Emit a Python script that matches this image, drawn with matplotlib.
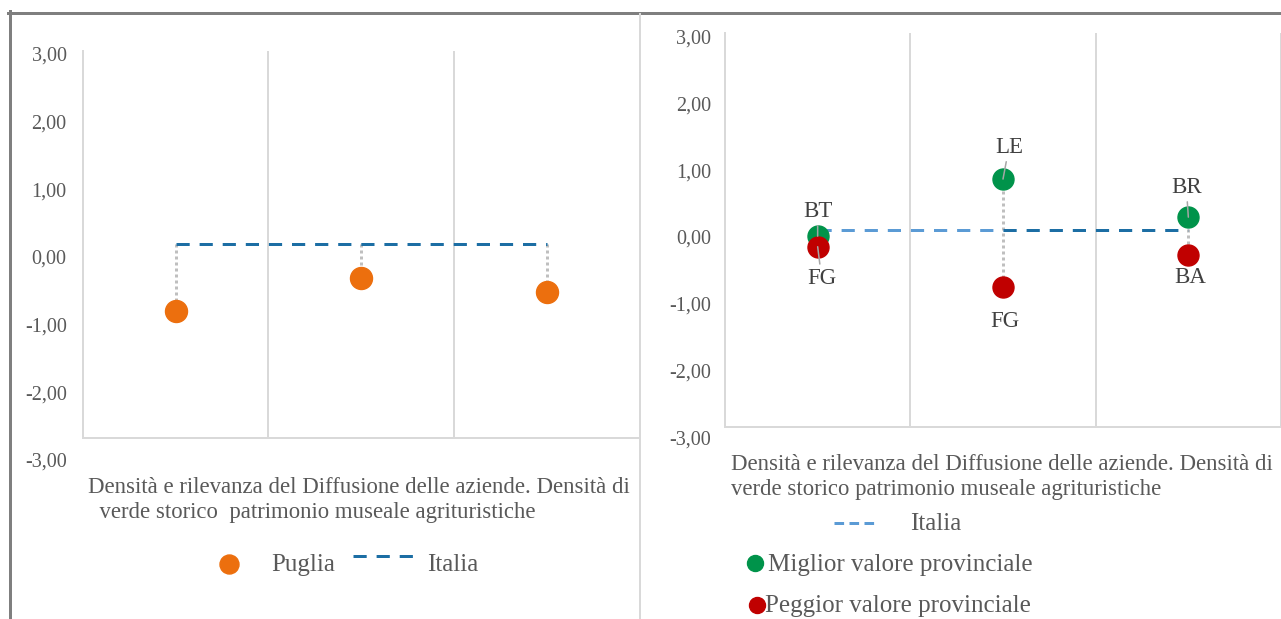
import matplotlib
matplotlib.use("Agg")
import matplotlib.pyplot as plt
from matplotlib.lines import Line2D
import numpy as np

# ---------------- data ----------------
category_text_left = ("Densità e rilevanza del Diffusione delle aziende. Densità di\n"
                      "  verde storico  patrimonio museale agrituristiche")
category_text_right = ("Densità e rilevanza del Diffusione delle aziende. Densità di\n"
                       "verde storico patrimonio museale agrituristiche")
puglia = [-1.04, -0.52, -0.74]
italia_left = [0.0, 0.0, 0.0]
italia_right = [0.0, 0.0, 0.0]
best = [-0.09, 0.78, 0.20]
worst = [-0.25, -0.87, -0.37]
best_labels = ["BT", "LE", "BR"]
worst_labels = ["FG", "FG", "BA"]
yticks = [-3, -2, -1, 0, 1, 2, 3]
legend_left = ["Puglia", "Italia"]
legend_right = ["Italia", "Miglior valore provinciale", "Peggior valore provinciale"]

# ---------------- style ----------------
W, H = 1281, 619
plt.rcParams["font.family"] = ["Liberation Serif", "DejaVu Serif"]
TXT = "#595959"
GRID = "#d9d9d9"
DOT = "#bfbfbf"
ORANGE = "#EC6F0E"
GREEN = "#00934A"
RED = "#C00000"
BLUE_D = "#1C6EA4"
BLUE_L = "#5B9BD5"
PX = 72 / 100  # points per pixel
CAT_FS = 16.4
LEG_FS = 18
TICK_FS = 14.5
LAB_FS = 16.5

fig = plt.figure(figsize=(W / 100, H / 100), dpi=100)


def rect(x0, y0, x1, y1):
    return [x0 / W, 1 - y1 / H, (x1 - x0) / W, (y1 - y0) / H]


def fx(x):
    return x / W


def fy(y):
    return 1 - y / H


def make_axes(r):
    ax = fig.add_axes(r)
    n = 3
    ax.set_xlim(0, n)
    ax.set_ylim(-3, 3)
    ax.set_xticks(np.arange(n + 1))
    ax.set_xticklabels([])
    ax.set_yticks([])
    ax.tick_params(axis="x", length=0)
    ax.grid(axis="x", color=GRID, lw=2 * PX)
    for s in ["top", "right"]:
        ax.spines[s].set_visible(False)
    for s in ["left", "bottom"]:
        ax.spines[s].set_color(GRID)
        ax.spines[s].set_linewidth(2 * PX)
    ax.set_facecolor("none")
    return ax


def label_axes(x, ytop, ybot, pad_px):
    la = fig.add_axes(rect(x, ytop, x + 1, ybot))
    la.set_ylim(-3, 3)
    la.set_yticks(yticks)
    la.set_yticklabels([f"{v:.2f}".replace(".", ",") for v in yticks])
    la.set_xticks([])
    la.tick_params(axis="y", length=0, pad=pad_px * PX, labelsize=TICK_FS, labelcolor=TXT)
    la.set_frame_on(False)
    la.patch.set_visible(False)
    return la


xs = np.arange(3) + 0.5
dash = (0, (4.4, 3.3))
dotted = (0, (1, 1))

# ---------------- left panel ----------------
axL = make_axes(rect(82.7, 50.7, 640, 438))
label_axes(82.7, 54, 460, 16)
for x, v, it in zip(xs, puglia, italia_left):
    axL.plot([x, x], [it, v], color=DOT, lw=3 * PX, ls=dotted, zorder=2,
             dash_capstyle="butt")
axL.plot(xs, italia_left, color=BLUE_D, lw=3 * PX, ls=dash, zorder=3,
         dash_capstyle="butt")
axL.plot(xs, puglia, ls="none", marker="o", ms=22 * PX, color=ORANGE, zorder=4)
fig.text(fx(88), fy(500), category_text_left, ha="left", va="center",
         fontsize=CAT_FS, color=TXT, linespacing=1.3)

# left legend (manual)
fig.add_artist(Line2D([fx(229)], [fy(564)], marker="o", ms=19 * PX, color=ORANGE,
                      ls="none", transform=fig.transFigure))
fig.text(fx(271), fy(565), legend_left[0], ha="left", va="center", fontsize=LEG_FS, color=TXT)
fig.add_artist(Line2D([fx(353), fx(413)], [fy(556), fy(556)], color=BLUE_D,
                      lw=3 * PX, ls=dash, dash_capstyle="butt",
                      transform=fig.transFigure))
fig.text(fx(427), fy(565), legend_left[1], ha="left", va="center", fontsize=LEG_FS, color=TXT)

# ---------------- right panel ----------------
axR = make_axes(rect(725, 33.3, 1281, 427.3))
label_axes(725, 36.7, 437.3, 14)
for x, b, w in zip(xs, best, worst):
    axR.plot([x, x], [b, w], color=DOT, lw=3 * PX, ls=dotted, zorder=2,
             dash_capstyle="butt")
axR.plot(xs[:2], italia_right[:2], color=BLUE_L, lw=3 * PX, ls=dash, zorder=3,
         dash_capstyle="butt")
axR.plot(xs[1:], italia_right[1:], color=BLUE_D, lw=3 * PX, ls=dash, zorder=3,
         dash_capstyle="butt")
axR.plot(xs, best, ls="none", marker="o", ms=21 * PX, color=GREEN, zorder=4)
axR.plot(xs, worst, ls="none", marker="o", ms=21 * PX, color=RED, zorder=5)

best_off = [(0, 25, True), (6, 32, True), (-2, 30, True)]
worst_off = [(4, -32, True), (2, -34, False), (2, -23, False)]
for vals, labs, offs in ((best, best_labels, best_off), (worst, worst_labels, worst_off)):
    for x, v, lab, (dx, dy, lead) in zip(xs, vals, labs, offs):
        axR.annotate(lab, (x, v), xytext=(dx, dy), textcoords="offset pixels",
                     ha="center", va="center", fontsize=LAB_FS, color="#404040", zorder=6,
                     arrowprops=dict(arrowstyle="-", color="#a6a6a6", lw=1.1,
                                     shrinkA=1, shrinkB=0) if lead else None)

fig.text(fx(731), fy(477.5), category_text_right, ha="left", va="center",
         fontsize=CAT_FS, color=TXT, linespacing=1.25)

# right legend (manual)
fig.add_artist(Line2D([fx(834), fx(876)], [fy(523), fy(523)], color=BLUE_L,
                      lw=3 * PX, ls=(0, (3.2, 1.8)), dash_capstyle="butt",
                      transform=fig.transFigure))
fig.text(fx(910), fy(524), legend_right[0], ha="left", va="center", fontsize=LEG_FS, color=TXT)
fig.add_artist(Line2D([fx(755)], [fy(563)], marker="o", ms=16 * PX, color=GREEN,
                      ls="none", transform=fig.transFigure))
fig.text(fx(768), fy(565), legend_right[1], ha="left", va="center", fontsize=LEG_FS, color=TXT)
fig.add_artist(Line2D([fx(757)], [fy(605)], marker="o", ms=16 * PX, color=RED,
                      ls="none", transform=fig.transFigure))
fig.text(fx(765), fy(606), legend_right[2], ha="left", va="center", fontsize=LEG_FS, color=TXT)

# ---------------- frame lines ----------------
fig.add_artist(Line2D([fx(8), fx(1281)], [fy(12.5), fy(12.5)], color="#7f7f7f",
                      lw=3 * PX, transform=fig.transFigure))
fig.add_artist(Line2D([fx(9.5), fx(9.5)], [fy(11), fy(619)], color="#7f7f7f",
                      lw=3 * PX, transform=fig.transFigure))
fig.add_artist(Line2D([fx(639.5), fx(639.5)], [fy(14), fy(619)], color=GRID,
                      lw=2 * PX, transform=fig.transFigure))

fig.savefig("out.png", dpi=100)
